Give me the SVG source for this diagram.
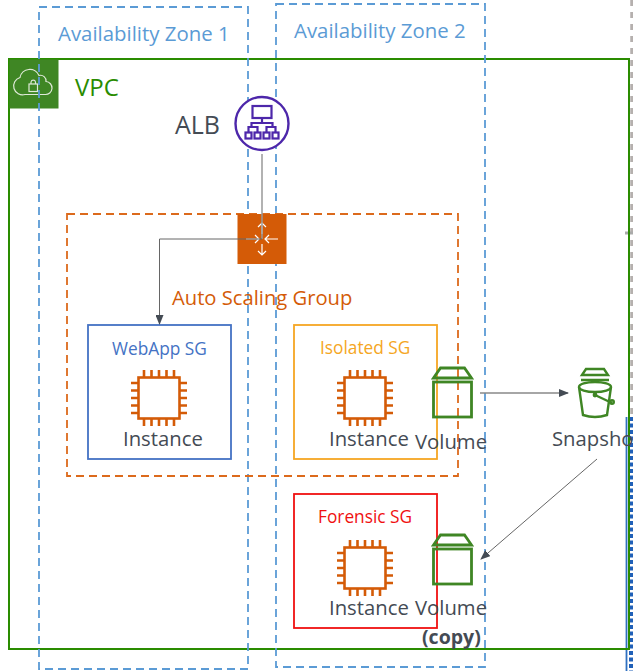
<svg xmlns="http://www.w3.org/2000/svg" width="633" height="671" viewBox="0 0 633 671">
<defs>
<style>
text{font-family:"Open Sans","Liberation Sans",sans-serif;fill:#444b54}
.az{fill:none;stroke:#5b9bd5;stroke-width:1.800;stroke-dasharray:8 5}
.az-t{font-size:20.400px;fill:#5b9bd5}
.lbl{font-size:20.300px}
.sg{font-size:17.300px}
.chip{fill:none;stroke:#d45b07;stroke-width:2.600}
.vol{fill:none;stroke:#3f8624;stroke-width:2.800}
.conn{fill:none;stroke:#666;stroke-width:1}
.wh{fill:none;stroke:#fff;stroke-width:1.200}
</style>
<marker id="ah" markerWidth="10" markerHeight="8" refX="9" refY="4" orient="auto" markerUnits="userSpaceOnUse"><path d="M0 0L10 4L0 8Z" fill="#444b54"/></marker>
<g id="chipicon">
<rect x="-20.500" y="-20.500" width="41" height="41" class="chip"/>
<path class="chip" d="M-15-21v-7M-7.500-21v-7M0-21v-7M7.500-21v-7M15-21v-7M-15 21v7M-7.500 21v7M0 21v7M7.500 21v7M15 21v7M-21-15h-7M-21-7.500h-7M-21 0h-7M-21 7.500h-7M-21 15h-7M21-15h7M21-7.500h7M21 0h7M21 7.500h7M21 15h7"/>
</g>
<g id="volicon">
<rect x="-19" y="-16" width="38" height="35" class="vol"/>
<path class="vol" d="M-19-20L-12-30H12L19-20Z"/>
</g>
</defs>
<rect width="633" height="671" fill="#fff"/>
<g id="edge-artifacts">
<path d="M632 0V417" stroke="#b5b0ae" stroke-width="3.500" stroke-dasharray="6 6" fill="none"/>
<path d="M625 233h8" stroke="#aaa" stroke-width="3"/>
<path d="M631 417V671" stroke="#2060b8" stroke-width="4" stroke-dasharray="4 2.500" fill="none"/>
<path d="M626.500 417V671" stroke="#2f70c0" stroke-width="1.800" fill="none"/>
</g>
<g id="vpc">
<rect x="9" y="59" width="620" height="590" fill="none" stroke="#2a8c00" stroke-width="2"/>
<rect x="9.500" y="59.500" width="49" height="49" fill="#3f8624"/>
<path d="M25 94.500h20a6.500 6.500 0 0 0 1-13a5.500 5.500 0 0 0-7-6a10 10 0 0 0-19 2a8.500 8.500 0 0 0 5 17Z" fill="none" stroke="#dfe9d8" stroke-width="1.200"/>
<rect x="29" y="84" width="8.500" height="7.500" fill="none" stroke="#dfe9d8" stroke-width="1.200"/>
<path d="M31 84v-2a2.300 2.300 0 0 1 4.500 0v2" fill="none" stroke="#dfe9d8" stroke-width="1.200"/>
<text x="75" y="96" font-size="24" style="fill:#2a8c00">VPC</text>
</g>
<g id="az1"><rect x="39" y="7" width="209" height="662" class="az"/><text x="58" y="41" class="az-t">Availability Zone 1</text></g>
<g id="az2"><rect x="276" y="4" width="209" height="663" class="az"/><text x="294" y="38" class="az-t">Availability Zone 2</text></g>
<g id="asg">
<rect x="67" y="214" width="391" height="262" fill="none" stroke="#dc6a1c" stroke-width="1.800" stroke-dasharray="8 5"/>
<text x="172" y="305" font-size="20.200" style="fill:#d45b07">Auto Scaling Group</text>
</g>
<g id="alb">
<text x="175" y="134" font-size="25">ALB</text>
<circle cx="262" cy="123.500" r="26.500" fill="#fff" stroke="#4d27aa" stroke-width="2.400"/>
<g fill="none" stroke="#4d27aa" stroke-width="2.200">
<rect x="252.500" y="106" width="19" height="12"/>
<path d="M262 118v5M251.500 127v-4h21v4M248.500 132v-5h9v5M266.500 132v-5h9v5"/>
<rect x="245.500" y="132.500" width="6" height="6"/>
<rect x="254.500" y="132.500" width="6" height="6"/>
<rect x="263.500" y="132.500" width="6" height="6"/>
<rect x="272.500" y="132.500" width="6" height="6"/>
</g>
</g>
<g id="asg-icon">
<rect x="237.500" y="214" width="49" height="50" fill="#d45b07"/>
<path class="wh" d="M262 223v11M258 227l4-4l4 4M262 244v11M258 251l4 4l4-4M246 239h13M255 235l4 4l-4 4M278 239h-13M269 235l-4 4l4 4"/>
</g>
<g id="webapp-sg">
<rect x="88" y="325" width="143" height="134" fill="none" stroke="#4472c4" stroke-width="1.800"/>
<text x="112" y="355" class="sg" style="fill:#4472c4">WebApp SG</text>
<use href="#chipicon" x="159" y="398"/>
<text x="123" y="446" class="lbl">Instance</text>
</g>
<g id="isolated-sg">
<rect x="294" y="325" width="143" height="134" fill="none" stroke="#f5a623" stroke-width="1.800"/>
<text x="320" y="354" class="sg" style="fill:#f5a623">Isolated SG</text>
<use href="#chipicon" x="365" y="398"/>
<text x="329" y="446" class="lbl">Instance</text>
</g>
<g id="forensic-sg">
<rect x="294" y="494" width="143" height="134" fill="none" stroke="#f01010" stroke-width="1.800"/>
<text x="318" y="523" class="sg" style="fill:#f01010">Forensic SG</text>
<use href="#chipicon" x="365" y="568"/>
<text x="329" y="615" class="lbl">Instance</text>
</g>
<g id="volume"><use href="#volicon" x="452.500" y="398"/><text x="415" y="449" class="lbl">Volume</text></g>
<g id="volume-copy"><use href="#volicon" x="452.500" y="565"/><text x="415" y="615" class="lbl">Volume</text><text x="422" y="644" font-size="19.500" font-weight="700">(copy)</text></g>
<g id="snapshot">
<g fill="none" stroke="#3f8624" stroke-width="2.400">
<path d="M582 375l4-6h18l4 6ZM581 380h28"/>
<ellipse cx="595" cy="387" rx="16" ry="5"/>
<path d="M579 387l4 28q12 4 24 0l4-28"/>
<path d="M595 395l17 8"/>
<circle cx="595" cy="395" r="1.200"/>
<circle cx="612" cy="402" r="1.800"/>
</g>
<text x="552" y="446" class="lbl">Snapsho</text>
</g>
<g id="connectors">
<path class="conn" d="M262 154V239" style="stroke:#999;stroke-width:1.500"/>
<path class="conn" d="M262 239H159.500V324" marker-end="url(#ah)"/>
<path class="conn" d="M480 393H568" style="stroke:#888;stroke-width:1.300" marker-end="url(#ah)"/>
<path class="conn" d="M597 459L481 559" marker-end="url(#ah)"/>
</g>
</svg>
